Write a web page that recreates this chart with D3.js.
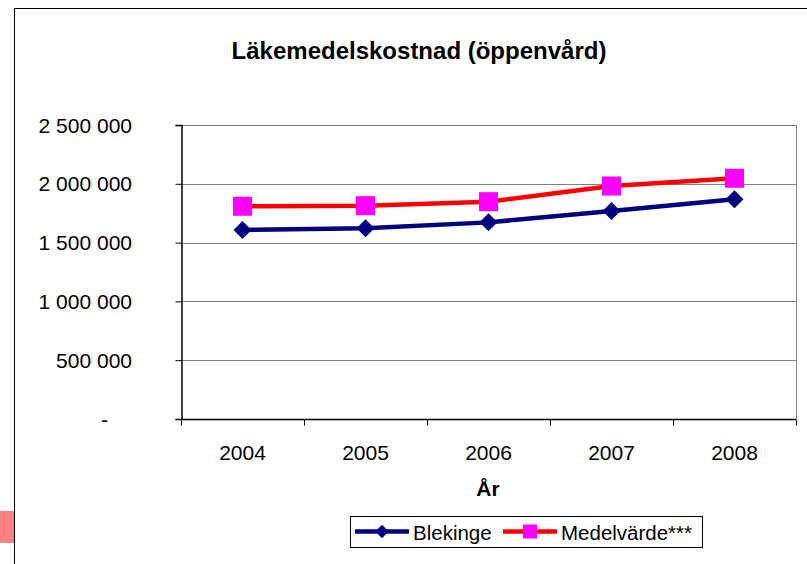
<!DOCTYPE html>
<html>
<head>
<meta charset="utf-8">
<script src="https://cdn.jsdelivr.net/npm/d3@7"></script>
<style>
  html, body { margin: 0; padding: 0; background: #fff; }
  svg { display: block; font-family: "Liberation Sans", Arial, sans-serif; }
</style>
</head>
<body>
<svg id="chart" width="807" height="564"></svg>
<script>
// Läkemedelskostnad per år, Blekinge mot riksmedelvärde
const years = ["2004", "2005", "2006", "2007", "2008"];
const blekinge = [1607000, 1621000, 1672000, 1769000, 1868000];
const medelvarde = [1809000, 1814000, 1848000, 1981000, 2047000];
const yTicks = [0, 500000, 1000000, 1500000, 2000000, 2500000];
const seriesNames = ["Blekinge", "Medelvärde***"];

const svg = d3.select("#chart");
const W = 807, H = 564;
const plot = { left: 181, right: 796, top: 125, bottom: 419 };

// Outer chart frame
svg.append("rect").attr("x", 14.5).attr("y", 8.5)
  .attr("width", W + 10).attr("height", H + 10)
  .attr("fill", "#fff").attr("stroke", "#000").attr("stroke-width", 1);

// Small marker at lower left edge
svg.append("rect").attr("x", 0).attr("y", 511).attr("width", 14).attr("height", 32)
  .attr("fill", "#ff8080");

const x = d3.scaleBand().domain(years).range([plot.left, plot.right]).padding(0);
const y = d3.scaleLinear().domain([0, 2500000]).range([plot.bottom, plot.top]);

const fmt = v => v === 0 ? "-" : d3.format(",")(v).replace(/,/g, " ");

// Gridlines
svg.append("g").selectAll("line").data(yTicks.filter(d => d > 0)).join("line")
  .attr("x1", plot.left).attr("x2", plot.right)
  .attr("y1", d => Math.round(y(d)) + 0.5).attr("y2", d => Math.round(y(d)) + 0.5)
  .attr("stroke", "#808080").attr("stroke-width", 1);

// Plot area right border
svg.append("line").attr("x1", plot.right + 0.5).attr("x2", plot.right + 0.5)
  .attr("y1", plot.top).attr("y2", plot.bottom)
  .attr("stroke", "#808080").attr("stroke-width", 1);

// Y axis
const yAxis = d3.axisLeft(y).tickValues(yTicks).tickSize(6).tickPadding(0).tickFormat(() => "");
const gy = svg.append("g").attr("transform", `translate(${plot.left + 0.5},0)`).call(yAxis);
gy.selectAll("path.domain").attr("stroke", "#000").attr("stroke-width", 1.5);
gy.selectAll(".tick line").attr("stroke", "#000");
svg.append("g").selectAll("text").data(yTicks).join("text")
  .attr("x", d => d === 0 ? 108 : 132)
  .attr("y", d => y(d) + 7.5)
  .attr("text-anchor", "end")
  .attr("font-size", 21).attr("fill", "#000")
  .text(fmt);

// X axis with ticks at category boundaries
const gx = svg.append("g").attr("transform", `translate(0,${plot.bottom + 0.5})`);
gx.append("line").attr("x1", plot.left).attr("x2", plot.right)
  .attr("stroke", "#000").attr("stroke-width", 1.5);
const boundaries = years.map(d => x(d)).concat([x(years[years.length - 1]) + x.bandwidth()]);
gx.selectAll("line.tk").data(boundaries).join("line").attr("class", "tk")
  .attr("x1", d => Math.round(d) + 0.5).attr("x2", d => Math.round(d) + 0.5)
  .attr("y1", 0).attr("y2", 6).attr("stroke", "#000");
gx.selectAll("text").data(years).join("text")
  .attr("x", d => x(d) + x.bandwidth() / 2)
  .attr("y", 40)
  .attr("text-anchor", "middle").attr("font-size", 21).attr("fill", "#000")
  .text(d => d);

// Titles
svg.append("text").attr("x", 419).attr("y", 59).attr("text-anchor", "middle")
  .attr("font-size", 24).attr("font-weight", "bold").text("Läkemedelskostnad (öppenvård)");
svg.append("text").attr("x", 488).attr("y", 496).attr("text-anchor", "middle")
  .attr("font-size", 21).attr("font-weight", "bold").text("År");

const cx = d => x(d) + x.bandwidth() / 2;
const line = d3.line().x((d, i) => cx(years[i])).y(d => y(d));

// Medelvärde series
svg.append("path").datum(medelvarde).attr("d", line)
  .attr("fill", "none").attr("stroke", "#ff0000").attr("stroke-width", 4.5);
svg.append("g").selectAll("rect").data(medelvarde).join("rect")
  .attr("x", (d, i) => cx(years[i]) - 9.5).attr("y", d => y(d) - 9.5)
  .attr("width", 19).attr("height", 19).attr("fill", "#ff00ff");

// Blekinge series
svg.append("path").datum(blekinge).attr("d", line)
  .attr("fill", "none").attr("stroke", "#000080").attr("stroke-width", 4.5);
const diamond = d3.symbol().type(d3.symbolSquare).size(162);
svg.append("g").selectAll("path").data(blekinge).join("path")
  .attr("d", diamond)
  .attr("transform", (d, i) => `translate(${cx(years[i])},${y(d)}) rotate(45)`)
  .attr("fill", "#000080");

// Legend
const lg = svg.append("g");
lg.append("rect").attr("x", 350.5).attr("y", 516.5).attr("width", 352).attr("height", 31)
  .attr("fill", "#fff").attr("stroke", "#000").attr("stroke-width", 1);
const items = [
  { name: seriesNames[0], x0: 355, color: "#000080", marker: "diamond" },
  { name: seriesNames[1], x0: 503, color: "#ff0000", marker: "square" }
];
items.forEach(it => {
  const my = 531.5;
  lg.append("line").attr("x1", it.x0).attr("x2", it.x0 + 54).attr("y1", my).attr("y2", my)
    .attr("stroke", it.color).attr("stroke-width", 4.5);
  if (it.marker === "diamond") {
    lg.append("path").attr("d", d3.symbol().type(d3.symbolSquare).size(92)())
      .attr("transform", `translate(${it.x0 + 27},${my}) rotate(45)`).attr("fill", "#000080");
  } else {
    lg.append("rect").attr("x", it.x0 + 20).attr("y", my - 7).attr("width", 14).attr("height", 14)
      .attr("fill", "#ff00ff");
  }
  lg.append("text").attr("x", it.x0 + 58).attr("y", 540).attr("font-size", 20.5)
    .attr("fill", "#000").text(it.name);
});
</script>
</body>
</html>
